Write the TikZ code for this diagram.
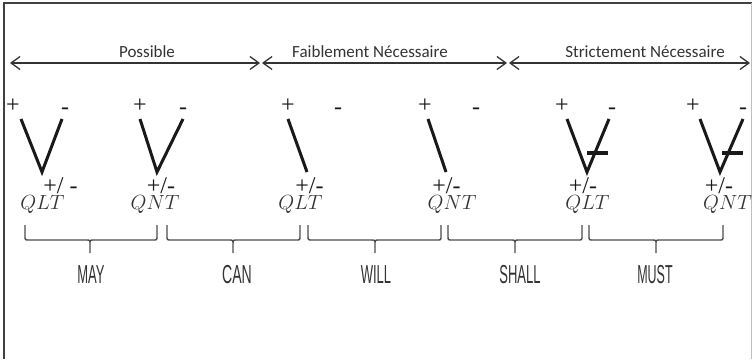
\RequirePackage{fix-cm}
\documentclass[tikz,border=0pt]{standalone}
\usepackage{fontspec}
\usepackage{graphicx}
\newfontfamily\carl{Carlito}
\newfontfamily\libs{Liberation Sans}
\newfontfamily\libserif{Liberation Serif}
\usetikzlibrary{arrows.meta}
\newcommand\drawmodalbrace[3]{%
  \draw[bracestyle] (#1,225) -- (#1,236) .. controls (#1,240) .. ({#1+4},240) -- ({#2-4},240) .. controls (#2,240) .. (#2,244) -- (#2,253)
    (#2,244) .. controls (#2,240) .. ({#2+4},240) -- ({#3-4},240) .. controls (#3,240) .. (#3,236) -- (#3,225);}
\begin{document}
\begin{tikzpicture}[x=1pt,y=-1pt,
  framestyle/.style={draw=black!75,line width=2pt},
  arr/.style={draw=black!80,line width=1.3pt,{Straight Barb[length=9pt,width=13pt]}-{Straight Barb[length=9pt,width=13pt]}},
  toplab/.style={font=\carl\fontsize{17}{19}\selectfont, text=black!80, inner sep=0pt, anchor=base},
  sign/.style={font=\libserif\fontsize{24}{26}\selectfont, text=black!90, inner sep=0pt, anchor=base},
  qlab/.style={font=\fontsize{20.5}{24}\selectfont, text=black!80, inner sep=0pt, anchor=base},
  strokestyle/.style={line width=3pt, draw=black!90},
  barstyle/.style={line width=3.5pt, draw=black!90},
  bracestyle/.style={draw=black!70, line width=1.4pt},
  modal/.style={font=\libs\fontsize{26}{28}\selectfont, text=black!80, inner sep=0pt, anchor=base}
]
\useasboundingbox (0,0) rectangle (752,359);
\fill[white] (0,0) rectangle (752,359);
% frame
\draw[framestyle] (4,359) -- (4,3) -- (752,3);
\draw[black!25, line width=0.8pt] (751,3) -- (751,359);

% top arrows
\coordinate (a0) at (10,63);
\coordinate (a1l) at (260,63);
\coordinate (a1r) at (262,63);
\coordinate (a2l) at (507,63);
\coordinate (a2r) at (509,63);
\coordinate (a3) at (750,63);
\draw[arr] (a0) -- (a1l);
\draw[arr] (a1r) -- (a2l);
\draw[arr] (a2r) -- (a3);
\node[toplab] (possible) at (147,57) {Possible};
\node[toplab] (faible) at (370,57) {Faiblement Nécessaire};
\node[toplab] (strict) at (645,57) {Strictement Nécessaire};

% signs
\foreach \n/\xp/\xm in {s1/13/65, s2/140/183, s3/288/338, s4/425/476, s5/562/612, s6/693/743}{
  \node[sign] (\n p) at (\xp,112.5) {+};
  \node[sign] (\n m) at (\xm,114) {-};
}
% shapes
\draw[strokestyle] (21,119) -- (42,172) -- (62,119);
\draw[strokestyle] (140,119) -- (157,172) -- (183,119);
\draw[strokestyle] (288,119) -- (307,172);
\draw[strokestyle] (428,119) -- (446,172);
\draw[strokestyle] (567,119) -- (587,172) -- (609,119);
\draw[barstyle] (587,153) -- (608,153);
\draw[strokestyle] (700,119) -- (720,172) -- (743,119);
\draw[barstyle] (722,153) -- (743,153);

% +/- labels
\node[sign] (pm1) at (60.5,193) {+/ -};
\node[sign] (pm2) at (161,193) {+/-};
\node[sign] (pm3) at (309.5,193) {+/-};
\node[sign] (pm4) at (446.5,193) {+/-};
\node[sign] (pm5) at (583,193) {+/-};
\node[sign] (pm6) at (719,193) {+/-};

% Q labels
\node[qlab] (q1) at (42.5,209) {$QLT$};
\node[qlab] (q2) at (155,209) {$QNT$};
\node[qlab] (q3) at (300.5,209) {$QLT$};
\node[qlab] (q4) at (452,209) {$QNT$};
\node[qlab] (q5) at (587.5,209) {$QLT$};
\node[qlab] (q6) at (727.5,209) {$QNT$};

% braces
\drawmodalbrace{25}{90}{157}
\drawmodalbrace{167}{233}{300}
\drawmodalbrace{308}{375}{441}
\drawmodalbrace{448}{515}{582}
\drawmodalbrace{589}{656}{723}

\node[modal] (may) at (91,283) {\scalebox{0.5}[1]{MAY}};
\node[modal] (can) at (237,283) {\scalebox{0.54}[1]{CAN}};
\node[modal] (will) at (376,283) {\scalebox{0.5}[1]{WILL}};
\node[modal] (shall) at (520,283) {\scalebox{0.5}[1]{SHALL}};
\node[modal] (must) at (655,283) {\scalebox{0.48}[1]{MUST}};
\end{tikzpicture}
\end{document}
